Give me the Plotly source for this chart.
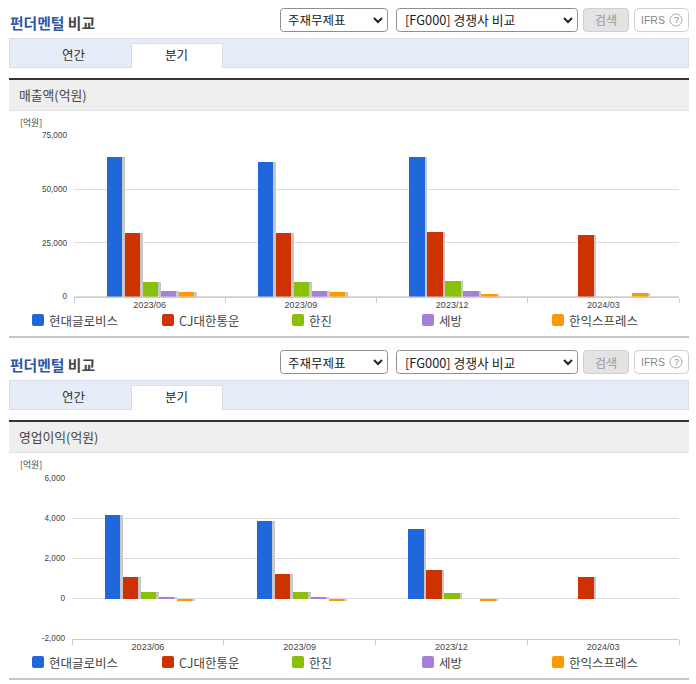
import plotly.graph_objects as go

W = 696
H = 684
KR = "Noto Sans CJK KR"
LAT = "Liberation Sans"

# Data
quarters = ["2023/06", "2023/09", "2023/12", "2024/03"]
companies = ["현대글로비스", "CJ대한통운", "한진", "세방", "한익스프레스"]
colors = ["#1F67DA", "#CC3300", "#8AC007", "#A67EDB", "#FF9900"]

sales_glovis = [65200, 63100, 65200, None]
sales_cj = [29700, 29700, 30400, 29100]
sales_hanjin = [7100, 7100, 7600, None]
sales_sebang = [2900, 2900, 2900, None]
sales_hanik = [2100, 2100, 1500, 2000]

profit_glovis = [4180, 3880, 3520, None]
profit_cj = [1110, 1240, 1460, 1110]
profit_hanjin = [350, 350, 290, None]
profit_sebang = [90, 80, None, None]
profit_hanik = [-70, -60, -120, None]

sales = [sales_glovis, sales_cj, sales_hanjin, sales_sebang, sales_hanik]
profit = [profit_glovis, profit_cj, profit_hanjin, profit_sebang, profit_hanik]

sales_ticks = [0, 25000, 50000, 75000]
sales_tick_labels = ["0", "25,000", "50,000", "75,000"]
profit_ticks = [-2000, 0, 2000, 4000, 6000]
profit_tick_labels = ["-2,000", "0", "2,000", "4,000", "6,000"]

panel_titles = ["매출액(억원)", "영업이익(억원)"]
tab_labels = ["연간", "분기"]
select_labels = ["주재무제표", "[FG000] 경쟁사 비교"]


def fx(x):
    return x / W


def fy(y):
    return 1 - y / H


def rect(x0, y0, x1, y1, fill, line=None):
    return dict(type="rect", xref="paper", yref="paper", x0=fx(x0), x1=fx(x1), y0=fy(y0), y1=fy(y1),
                fillcolor=fill, line=dict(color=line or fill, width=1 if line else 0))


def round_rect(x0, y0, x1, y1, r, fill, line=None):
    a, b, c, d = fx(x0), fx(x1), fy(y0), fy(y1)
    rx, ry = r / W, r / H
    path = (f"M{a + rx},{c} L{b - rx},{c} Q{b},{c} {b},{c - ry} L{b},{d + ry} Q{b},{d} {b - rx},{d} "
            f"L{a + rx},{d} Q{a},{d} {a},{d + ry} L{a},{c - ry} Q{a},{c} {a + rx},{c} Z")
    return dict(type="path", xref="paper", yref="paper", path=path, fillcolor=fill,
                line=dict(color=line or fill, width=1 if line else 0))


def chevron(x, y):
    path = f"M{fx(x - 4)},{fy(y - 2)} L{fx(x)},{fy(y + 2)} L{fx(x + 4)},{fy(y - 2)}"
    return dict(type="path", xref="paper", yref="paper", path=path, line=dict(color="#222222", width=2))


def label(x, y, text, size=12.5, color="#333333", anchor="left", family=KR):
    return dict(xref="paper", yref="paper", x=fx(x), y=fy(y), text=text, showarrow=False, xanchor=anchor,
                yanchor="middle", font=dict(family=family, size=size, color=color), borderpad=0, borderwidth=0)


shapes = []
annotations = []

# page furniture around each chart, the second block sits 342px lower
for n, dy in enumerate([0, 342]):
    annotations.append(label(10, 23 + dy, '<b><span style="color:#2F57A6">펀더멘털</span> 비교</b>', 14.8, "#444444"))

    shapes.append(round_rect(280.5, 8.5 + dy, 387.5, 31.5 + dy, 3, "#FFFFFF", "#8F8F8F"))
    shapes.append(round_rect(396.5, 8.5 + dy, 577.5, 31.5 + dy, 3, "#FFFFFF", "#8F8F8F"))
    shapes.append(chevron(378, 20 + dy))
    shapes.append(chevron(568, 20 + dy))
    annotations.append(label(288, 20 + dy, select_labels[0], 12.5, "#222222"))
    annotations.append(label(405, 20 + dy, select_labels[1], 12.8, "#222222"))

    shapes.append(round_rect(583.5, 8.5 + dy, 628.5, 31.5 + dy, 3, "#E3E3E3", "#CFCFCF"))
    annotations.append(label(606, 20 + dy, "검색", 12, "#999999", "center"))
    shapes.append(round_rect(634.5, 8.5 + dy, 688.5, 31.5 + dy, 4, "#FFFFFF", "#CFCFCF"))
    annotations.append(label(641, 20 + dy, "IFRS", 10.5, "#888888", family=LAT))
    shapes.append(dict(type="circle", xref="paper", yref="paper", x0=fx(670), x1=fx(682), y0=fy(14 + dy),
                       y1=fy(26 + dy), fillcolor="#FFFFFF", line=dict(color="#AAAAAA", width=1)))
    annotations.append(label(676, 20 + dy, "?", 9, "#888888", "center", LAT))

    shapes.append(rect(9.5, 38.5 + dy, 688.5, 67.5 + dy, "#E6EDF8", "#D7DEE8"))
    shapes.append(rect(131.5, 43.5 + dy, 222.5, 68 + dy, "#FFFFFF", "#D7DEE8"))
    shapes.append(rect(132, 66 + dy, 222, 69 + dy, "#FFFFFF"))
    annotations.append(label(74, 54 + dy, tab_labels[0], 12.5, "#333333", "center"))
    annotations.append(label(176.5, 55 + dy, tab_labels[1], 12.5, "#222222", "center"))

    shapes.append(rect(9, 80 + dy, 689, 110 + dy, "#EFEFEF"))
    shapes.append(rect(9, 110 + dy, 689, 111 + dy, "#E2E2E2"))
    shapes.append(rect(9, 78 + dy, 689, 80 + dy, "#333333"))
    annotations.append(label(19, 95 + dy, panel_titles[n], 12.8, "#444444"))
    annotations.append(label(20, 122.5 + dy, "[억원]", 8.8, "#444444"))

    # hand placed legend row
    for i, name in enumerate(companies):
        sx = 32 + 130 * i
        shapes.append(round_rect(sx, 314 + dy, sx + 12, 326 + dy, 2, colors[i]))
        annotations.append(label(sx + 17, 320 + dy, name, 12.5, "#444444"))

    shapes.append(rect(9, 336 + dy, 689, 338 + dy, "#C6C6C6"))

fig = go.Figure()

# bar placement, in category units of each x axis
charts = [("x", "y", sales, 151.25), ("x2", "y2", profit, 151.75)]
for xa, ya, series, group_px in charts:
    for i, values in enumerate(series):
        offset = ((i - 2.5) * 18 + 2.0) / group_px
        width = 15.5 / group_px
        # soft shadow behind each bar
        fig.add_trace(go.Bar(x=quarters, y=values, xaxis=xa, yaxis=ya, offset=offset + 2.5 / group_px, width=width,
                             marker=dict(color="#C8C8C8", line_width=0), showlegend=False, hoverinfo="skip"))
    for i, values in enumerate(series):
        offset = ((i - 2.5) * 18 + 2.0) / group_px
        width = 15.5 / group_px
        fig.add_trace(go.Bar(x=quarters, y=values, xaxis=xa, yaxis=ya, offset=offset, width=width, name=companies[i],
                             marker=dict(color=colors[i], line_width=0), showlegend=False))

x_style = dict(type="category", categoryorder="array", categoryarray=quarters, tickson="boundaries", ticks="outside",
               ticklen=5, tickcolor="#C0D0E0", tickwidth=1, showline=True, linecolor="#C0D0E0", linewidth=1,
               showgrid=False, zeroline=False, tickfont=dict(family=LAT, size=9, color="#444444"), fixedrange=True)
y_style = dict(showgrid=True, gridcolor="#DCDCDC", gridwidth=1, zeroline=True, zerolinecolor="#DCDCDC",
               zerolinewidth=1, showline=False, ticks="", ticklabelstandoff=6,
               tickfont=dict(family=LAT, size=8.2, color="#444444"), fixedrange=True)

fig.update_layout(
    width=W,
    height=H,
    margin=dict(l=0, r=0, t=0, b=0, autoexpand=False),
    paper_bgcolor="#FFFFFF",
    plot_bgcolor="#FFFFFF",
    barmode="overlay",
    bargap=0,
    showlegend=False,
    shapes=shapes,
    annotations=annotations,
    xaxis=dict(domain=[fx(74), fx(679)], anchor="y", **x_style),
    yaxis=dict(domain=[fy(296.5), fy(135.5)], anchor="x", range=[0, 75000], tickvals=sales_ticks,
               ticktext=sales_tick_labels, **y_style),
    xaxis2=dict(domain=[fx(72), fx(679)], anchor="y2", **x_style),
    yaxis2=dict(domain=[fy(638.5), fy(478.5)], anchor="x2", range=[-2000, 6000], tickvals=profit_ticks,
                ticktext=profit_tick_labels, **y_style),
)

fig.write_html("out.html", config={"displayModeBar": False},
               post_script="document.body.style.margin='0';document.body.style.overflow='hidden';")
